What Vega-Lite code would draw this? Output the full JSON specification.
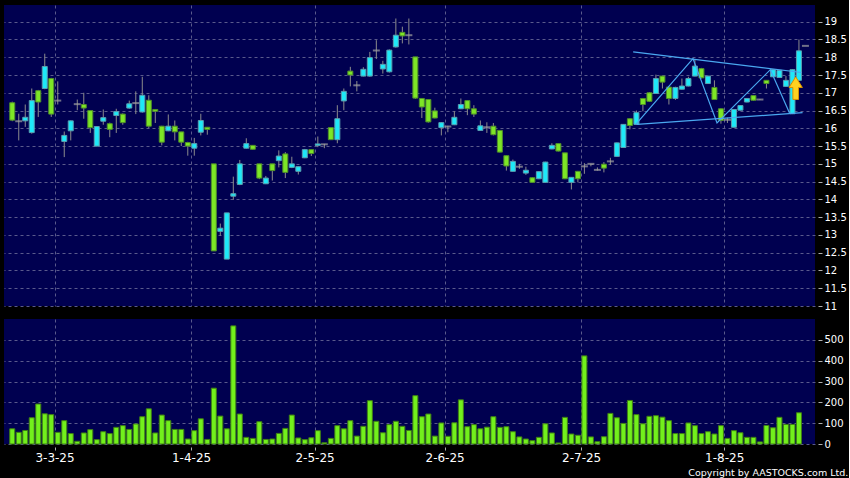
{
  "$schema": "https://vega.github.io/schema/vega-lite/v6.json",
  "background": "black",
  "padding": {"left": 4, "top": 5, "right": 0, "bottom": 0},
  "bounds": "flush",
  "spacing": 13,
  "config": {
    "view": {"fill": "#000050", "stroke": null},
    "font": "DejaVu Sans",
    "axis": {"domain": false, "gridColor": "#5a5a8c", "gridDash": [3, 3], "gridWidth": 1, "labelColor": "white", "labelFont": "DejaVu Sans", "tickColor": "#b0b0b0", "title": null, "labelOverlap": false}
  },
  "title": {"text": "Copyright by AASTOCKS.com Ltd.", "orient": "bottom", "anchor": "end", "frame": "bounds", "fontSize": 9.5, "fontWeight": "normal", "color": "white", "font": "DejaVu Sans", "offset": 5, "dx": 2},
  "datasets": {
    "ohlc": [
      {"i":0,"o":16.72,"h":16.75,"l":16.20,"c":16.23,"v":73},
      {"i":1,"o":16.20,"h":16.41,"l":15.66,"c":16.20,"v":56},
      {"i":2,"o":16.21,"h":16.67,"l":16.04,"c":16.31,"v":65},
      {"i":3,"o":15.88,"h":17.12,"l":15.85,"c":16.78,"v":126},
      {"i":4,"o":17.06,"h":17.08,"l":16.32,"c":16.74,"v":192},
      {"i":5,"o":17.12,"h":18.10,"l":17.10,"c":17.74,"v":145},
      {"i":6,"o":17.40,"h":17.42,"l":16.32,"c":16.40,"v":141},
      {"i":7,"o":16.78,"h":17.32,"l":16.67,"c":16.78,"v":56},
      {"i":8,"o":15.63,"h":15.91,"l":15.19,"c":15.80,"v":112},
      {"i":9,"o":15.93,"h":16.22,"l":15.66,"c":16.21,"v":50},
      {"i":10,"o":16.68,"h":16.81,"l":16.51,"c":16.68,"v":13},
      {"i":11,"o":16.67,"h":17.00,"l":16.27,"c":16.57,"v":53},
      {"i":12,"o":16.50,"h":16.50,"l":15.87,"c":16.02,"v":69},
      {"i":13,"o":15.50,"h":16.06,"l":15.49,"c":16.05,"v":21},
      {"i":14,"o":16.20,"h":16.53,"l":16.10,"c":16.30,"v":59},
      {"i":15,"o":16.13,"h":16.16,"l":15.75,"c":15.97,"v":50},
      {"i":16,"o":16.36,"h":16.55,"l":15.87,"c":16.47,"v":80},
      {"i":17,"o":16.40,"h":16.42,"l":16.10,"c":16.16,"v":88},
      {"i":18,"o":16.57,"h":16.78,"l":16.55,"c":16.69,"v":70},
      {"i":19,"o":16.71,"h":17.04,"l":16.40,"c":16.71,"v":96},
      {"i":20,"o":16.46,"h":17.45,"l":16.44,"c":16.93,"v":131},
      {"i":21,"o":16.79,"h":16.93,"l":16.01,"c":16.06,"v":169},
      {"i":22,"o":16.53,"h":16.53,"l":16.15,"c":16.48,"v":53},
      {"i":23,"o":16.06,"h":16.07,"l":15.52,"c":15.61,"v":139},
      {"i":24,"o":15.93,"h":16.39,"l":15.92,"c":16.06,"v":112},
      {"i":25,"o":16.06,"h":16.22,"l":15.66,"c":15.90,"v":70},
      {"i":26,"o":15.90,"h":15.90,"l":15.50,"c":15.61,"v":70},
      {"i":27,"o":15.60,"h":15.62,"l":15.23,"c":15.50,"v":24},
      {"i":28,"o":15.44,"h":15.73,"l":15.23,"c":15.57,"v":64},
      {"i":29,"o":15.89,"h":16.41,"l":15.80,"c":16.22,"v":121},
      {"i":30,"o":16.03,"h":16.03,"l":15.82,"c":15.97,"v":22},
      {"i":31,"o":15.00,"h":15.00,"l":12.55,"c":12.55,"v":268},
      {"i":32,"o":13.10,"h":13.32,"l":12.98,"c":13.19,"v":134},
      {"i":33,"o":12.32,"h":13.62,"l":12.32,"c":13.62,"v":73},
      {"i":34,"o":14.09,"h":14.64,"l":13.99,"c":14.16,"v":567},
      {"i":35,"o":14.42,"h":15.11,"l":14.40,"c":15.00,"v":144},
      {"i":36,"o":15.44,"h":15.72,"l":15.43,"c":15.57,"v":32},
      {"i":37,"o":15.52,"h":15.53,"l":15.40,"c":15.41,"v":27},
      {"i":38,"o":15.00,"h":15.00,"l":14.57,"c":14.60,"v":107},
      {"i":39,"o":14.44,"h":14.66,"l":14.43,"c":14.60,"v":22},
      {"i":40,"o":15.00,"h":15.00,"l":14.53,"c":14.81,"v":24},
      {"i":41,"o":15.09,"h":15.38,"l":14.90,"c":15.22,"v":51},
      {"i":42,"o":15.28,"h":15.33,"l":14.60,"c":14.76,"v":75},
      {"i":43,"o":14.90,"h":15.20,"l":14.88,"c":15.00,"v":139},
      {"i":44,"o":14.79,"h":14.93,"l":14.70,"c":14.92,"v":29},
      {"i":45,"o":15.17,"h":15.42,"l":15.16,"c":15.40,"v":21},
      {"i":46,"o":15.40,"h":15.40,"l":15.22,"c":15.29,"v":30},
      {"i":47,"o":15.52,"h":15.77,"l":15.47,"c":15.56,"v":64},
      {"i":48,"o":15.55,"h":15.56,"l":15.44,"c":15.55,"v":6},
      {"i":49,"o":16.02,"h":16.02,"l":15.67,"c":15.68,"v":27},
      {"i":50,"o":15.68,"h":16.65,"l":15.58,"c":16.27,"v":88},
      {"i":51,"o":16.77,"h":17.12,"l":16.51,"c":17.04,"v":73},
      {"i":52,"o":17.61,"h":17.73,"l":17.18,"c":17.50,"v":112},
      {"i":53,"o":17.21,"h":17.33,"l":17.04,"c":17.21,"v":38},
      {"i":54,"o":17.47,"h":17.72,"l":17.46,"c":17.66,"v":85},
      {"i":55,"o":17.47,"h":18.15,"l":17.45,"c":17.99,"v":208},
      {"i":56,"o":18.19,"h":18.48,"l":17.95,"c":18.19,"v":109},
      {"i":57,"o":17.67,"h":17.90,"l":17.54,"c":17.80,"v":54},
      {"i":58,"o":17.59,"h":18.22,"l":17.57,"c":18.20,"v":93},
      {"i":59,"o":18.29,"h":19.09,"l":18.27,"c":18.62,"v":109},
      {"i":60,"o":18.70,"h":18.86,"l":18.39,"c":18.60,"v":85},
      {"i":61,"o":18.62,"h":19.09,"l":18.36,"c":18.62,"v":65},
      {"i":62,"o":18.01,"h":18.01,"l":16.83,"c":16.85,"v":232},
      {"i":63,"o":16.84,"h":16.85,"l":16.29,"c":16.60,"v":131},
      {"i":64,"o":16.81,"h":16.82,"l":16.16,"c":16.18,"v":144},
      {"i":65,"o":16.49,"h":16.58,"l":16.28,"c":16.29,"v":38},
      {"i":66,"o":16.02,"h":16.17,"l":15.80,"c":16.16,"v":101},
      {"i":67,"o":16.05,"h":16.07,"l":15.89,"c":16.05,"v":37},
      {"i":68,"o":16.10,"h":16.48,"l":16.09,"c":16.31,"v":102},
      {"i":69,"o":16.55,"h":16.84,"l":16.54,"c":16.67,"v":212},
      {"i":70,"o":16.78,"h":16.79,"l":16.37,"c":16.55,"v":83},
      {"i":71,"o":16.55,"h":16.65,"l":16.32,"c":16.40,"v":93},
      {"i":72,"o":15.94,"h":16.22,"l":15.93,"c":16.07,"v":73},
      {"i":73,"o":16.03,"h":16.17,"l":15.87,"c":16.03,"v":81},
      {"i":74,"o":16.06,"h":16.15,"l":15.80,"c":15.82,"v":131},
      {"i":75,"o":15.94,"h":15.95,"l":15.32,"c":15.33,"v":80},
      {"i":76,"o":15.23,"h":15.24,"l":14.81,"c":14.94,"v":83},
      {"i":77,"o":14.79,"h":15.12,"l":14.78,"c":15.07,"v":59},
      {"i":78,"o":14.92,"h":15.00,"l":14.86,"c":14.92,"v":34},
      {"i":79,"o":14.74,"h":14.92,"l":14.69,"c":14.82,"v":24},
      {"i":80,"o":14.61,"h":14.62,"l":14.47,"c":14.48,"v":16},
      {"i":81,"o":14.58,"h":14.79,"l":14.57,"c":14.78,"v":32},
      {"i":82,"o":14.48,"h":15.06,"l":14.47,"c":15.05,"v":97},
      {"i":83,"o":15.42,"h":15.58,"l":15.41,"c":15.52,"v":53},
      {"i":84,"o":15.57,"h":15.58,"l":15.35,"c":15.36,"v":5},
      {"i":85,"o":15.31,"h":15.31,"l":14.57,"c":14.58,"v":128},
      {"i":86,"o":14.48,"h":14.63,"l":14.28,"c":14.62,"v":48},
      {"i":87,"o":14.79,"h":14.80,"l":14.48,"c":14.58,"v":42},
      {"i":88,"o":14.93,"h":15.02,"l":14.72,"c":14.93,"v":423},
      {"i":89,"o":15.00,"h":15.00,"l":14.93,"c":15.00,"v":34},
      {"i":90,"o":14.83,"h":14.90,"l":14.81,"c":14.83,"v":11},
      {"i":91,"o":14.99,"h":15.05,"l":14.76,"c":14.88,"v":35},
      {"i":92,"o":15.07,"h":15.17,"l":14.97,"c":15.07,"v":147},
      {"i":93,"o":15.21,"h":15.60,"l":15.20,"c":15.59,"v":126},
      {"i":94,"o":15.46,"h":16.12,"l":15.45,"c":16.11,"v":99},
      {"i":95,"o":16.27,"h":16.28,"l":15.97,"c":16.08,"v":209},
      {"i":96,"o":16.11,"h":16.50,"l":16.10,"c":16.44,"v":141},
      {"i":97,"o":16.84,"h":16.85,"l":16.48,"c":16.67,"v":97},
      {"i":98,"o":17.00,"h":17.02,"l":16.74,"c":16.76,"v":133},
      {"i":99,"o":16.98,"h":17.51,"l":16.97,"c":17.40,"v":136},
      {"i":100,"o":17.47,"h":17.48,"l":17.12,"c":17.30,"v":129},
      {"i":101,"o":17.16,"h":17.17,"l":16.67,"c":16.84,"v":112},
      {"i":102,"o":16.84,"h":17.17,"l":16.80,"c":17.15,"v":50},
      {"i":103,"o":17.10,"h":17.40,"l":17.09,"c":17.19,"v":50},
      {"i":104,"o":17.19,"h":17.45,"l":17.18,"c":17.40,"v":101},
      {"i":105,"o":17.47,"h":17.94,"l":17.46,"c":17.75,"v":88},
      {"i":106,"o":17.68,"h":17.70,"l":17.40,"c":17.42,"v":50},
      {"i":107,"o":17.26,"h":17.48,"l":17.25,"c":17.47,"v":59},
      {"i":108,"o":17.15,"h":17.35,"l":16.80,"c":16.81,"v":48},
      {"i":109,"o":16.55,"h":16.56,"l":16.13,"c":16.22,"v":88},
      {"i":110,"o":16.24,"h":16.30,"l":16.15,"c":16.24,"v":27},
      {"i":111,"o":16.03,"h":16.54,"l":16.02,"c":16.53,"v":64},
      {"i":112,"o":16.51,"h":16.65,"l":16.50,"c":16.64,"v":54},
      {"i":113,"o":16.74,"h":16.85,"l":16.73,"c":16.84,"v":32},
      {"i":114,"o":16.92,"h":16.93,"l":16.78,"c":16.79,"v":32},
      {"i":115,"o":16.81,"h":16.82,"l":16.80,"c":16.81,"v":10},
      {"i":116,"o":17.35,"h":17.36,"l":17.12,"c":17.26,"v":89},
      {"i":117,"o":17.45,"h":17.66,"l":17.44,"c":17.65,"v":78},
      {"i":118,"o":17.43,"h":17.64,"l":17.42,"c":17.63,"v":128},
      {"i":119,"o":17.18,"h":17.47,"l":17.17,"c":17.35,"v":94},
      {"i":120,"o":16.41,"h":17.66,"l":16.40,"c":17.65,"v":94},
      {"i":121,"o":17.35,"h":18.50,"l":17.34,"c":18.18,"v":150},
      {"i":122,"o":18.32,"h":18.32,"l":18.32,"c":18.32,"v":null}
    ],
    "pattern": [
      {"seg":"u","k":0,"i":95.5,"p":18.15},{"seg":"u","k":1,"i":121.4,"p":17.57},
      {"seg":"l","k":0,"i":96.1,"p":16.11},{"seg":"l","k":1,"i":121.55,"p":16.44},
      {"seg":"z","k":0,"i":95.9,"p":16.11},{"seg":"z","k":1,"i":104.7,"p":17.96},{"seg":"z","k":2,"i":108.4,"p":16.15},{"seg":"z","k":3,"i":116.6,"p":17.65},{"seg":"z","k":4,"i":119.55,"p":16.43}
    ],
    "arrow": [{"i":120.5,"p":17.13}]
  },
  "vconcat": [
    {
      "width": 811,
      "height": 301,
      "layer": [
        {
          "data": {"name": "ohlc"},
          "mark": {"type": "rule", "color": "#8c8c8c", "strokeWidth": 1},
          "encoding": {
            "x": {"field": "i", "type": "quantitative", "scale": {"domain": [-0.5, 122.7], "nice": false, "zero": false},
                  "axis": {"values": [6.5, 27.5, 46.5, 66.5, 87.5, 109.5], "labels": false, "ticks": false, "grid": true}},
            "y": {"field": "l", "type": "quantitative", "scale": {"domain": [11, 19.47], "nice": false, "zero": false},
                  "axis": {"orient": "right", "values": [11, 11.5, 12, 12.5, 13, 13.5, 14, 14.5, 15, 15.5, 16, 16.5, 17, 17.5, 18, 18.5, 19], "format": "~g", "grid": true, "offset": 3, "tickSize": 4, "labelPadding": 2, "labelFontSize": 10, "labelOverlap": false}},
            "y2": {"field": "h"}
          }
        },
        {
          "data": {"name": "ohlc"},
          "transform": [{"filter": "datum.o != datum.c"}],
          "mark": {"type": "bar", "orient": "vertical", "width": 5, "strokeWidth": 1},
          "encoding": {
            "x": {"field": "i", "type": "quantitative", "scale": {"domain": [-0.5, 122.7], "nice": false, "zero": false},
                  "axis": {"values": [6.5, 27.5, 46.5, 66.5, 87.5, 109.5], "labels": false, "ticks": false, "grid": true}},
            "y": {"field": "o", "type": "quantitative", "scale": {"domain": [11, 19.47], "nice": false, "zero": false},
                  "axis": {"orient": "right", "values": [11, 11.5, 12, 12.5, 13, 13.5, 14, 14.5, 15, 15.5, 16, 16.5, 17, 17.5, 18, 18.5, 19], "format": "~g", "grid": true, "offset": 3, "tickSize": 4, "labelPadding": 2, "labelFontSize": 10, "labelOverlap": false}},
            "y2": {"field": "c"},
            "fill": {"condition": {"test": "datum.c > datum.o", "value": "#1EE8F8"}, "value": "#7DE626"},
            "stroke": {"condition": {"test": "datum.c > datum.o", "value": "#5A9FB0"}, "value": "#4F8F2A"}
          }
        },
        {
          "data": {"name": "ohlc"},
          "transform": [{"filter": "datum.o == datum.c"}],
          "mark": {"type": "tick", "orient": "horizontal", "size": 7, "thickness": 2, "color": "#a0a0a0"},
          "encoding": {
            "x": {"field": "i", "type": "quantitative", "scale": {"domain": [-0.5, 122.7], "nice": false, "zero": false},
                  "axis": {"values": [6.5, 27.5, 46.5, 66.5, 87.5, 109.5], "labels": false, "ticks": false, "grid": true}},
            "y": {"field": "c", "type": "quantitative", "scale": {"domain": [11, 19.47], "nice": false, "zero": false},
                  "axis": {"orient": "right", "values": [11, 11.5, 12, 12.5, 13, 13.5, 14, 14.5, 15, 15.5, 16, 16.5, 17, 17.5, 18, 18.5, 19], "format": "~g", "grid": true, "offset": 3, "tickSize": 4, "labelPadding": 2, "labelFontSize": 10, "labelOverlap": false}}
          }
        },
        {
          "data": {"name": "pattern"},
          "mark": {"type": "line", "color": "#4AA8F0", "strokeWidth": 1.2},
          "encoding": {
            "x": {"field": "i", "type": "quantitative", "scale": {"domain": [-0.5, 122.7], "nice": false, "zero": false},
                  "axis": {"values": [6.5, 27.5, 46.5, 66.5, 87.5, 109.5], "labels": false, "ticks": false, "grid": true}},
            "y": {"field": "p", "type": "quantitative", "scale": {"domain": [11, 19.47], "nice": false, "zero": false},
                  "axis": {"orient": "right", "values": [11, 11.5, 12, 12.5, 13, 13.5, 14, 14.5, 15, 15.5, 16, 16.5, 17, 17.5, 18, 18.5, 19], "format": "~g", "grid": true, "offset": 3, "tickSize": 4, "labelPadding": 2, "labelFontSize": 10, "labelOverlap": false}},
            "detail": {"field": "seg"},
            "order": {"field": "k"}
          }
        },
        {
          "data": {"name": "arrow"},
          "mark": {"type": "point", "filled": true, "shape": "M0,-1L0.59,-0.06L0.25,-0.06L0.25,1L-0.25,1L-0.25,-0.06L-0.59,-0.06Z", "size": 511, "fill": "#FFD21F", "stroke": "#D89000", "strokeWidth": 1, "opacity": 1},
          "encoding": {
            "x": {"field": "i", "type": "quantitative", "scale": {"domain": [-0.5, 122.7], "nice": false, "zero": false},
                  "axis": {"values": [6.5, 27.5, 46.5, 66.5, 87.5, 109.5], "labels": false, "ticks": false, "grid": true}},
            "y": {"field": "p", "type": "quantitative", "scale": {"domain": [11, 19.47], "nice": false, "zero": false},
                  "axis": {"orient": "right", "values": [11, 11.5, 12, 12.5, 13, 13.5, 14, 14.5, 15, 15.5, 16, 16.5, 17, 17.5, 18, 18.5, 19], "format": "~g", "grid": true, "offset": 3, "tickSize": 4, "labelPadding": 2, "labelFontSize": 10, "labelOverlap": false}}
          }
        }
      ]
    },
    {
      "width": 811,
      "height": 125,
      "data": {"name": "ohlc"},
      "mark": {"type": "bar", "orient": "vertical", "width": 5, "fill": "#72F01C", "stroke": "#3F7F14", "strokeWidth": 1},
      "encoding": {
        "x": {"field": "i", "type": "quantitative", "scale": {"domain": [-0.5, 122.7], "nice": false, "zero": false},
              "axis": {"values": [6.5, 27.5, 46.5, 66.5, 87.5, 109.5], "grid": true, "offset": 3, "tickSize": 3, "labelPadding": 2, "labelFontSize": 12,
                       "labelExpr": "datum.value == 6.5 ? '3-3-25' : datum.value == 27.5 ? '1-4-25' : datum.value == 46.5 ? '2-5-25' : datum.value == 66.5 ? '2-6-25' : datum.value == 87.5 ? '2-7-25' : '1-8-25'"}},
        "y": {"field": "v", "type": "quantitative", "scale": {"domain": [0, 600], "nice": false},
              "axis": {"orient": "right", "values": [0, 100, 200, 300, 400, 500], "grid": true, "offset": 3, "tickSize": 4, "labelPadding": 2, "labelFontSize": 10}}
      }
    }
  ]
}
